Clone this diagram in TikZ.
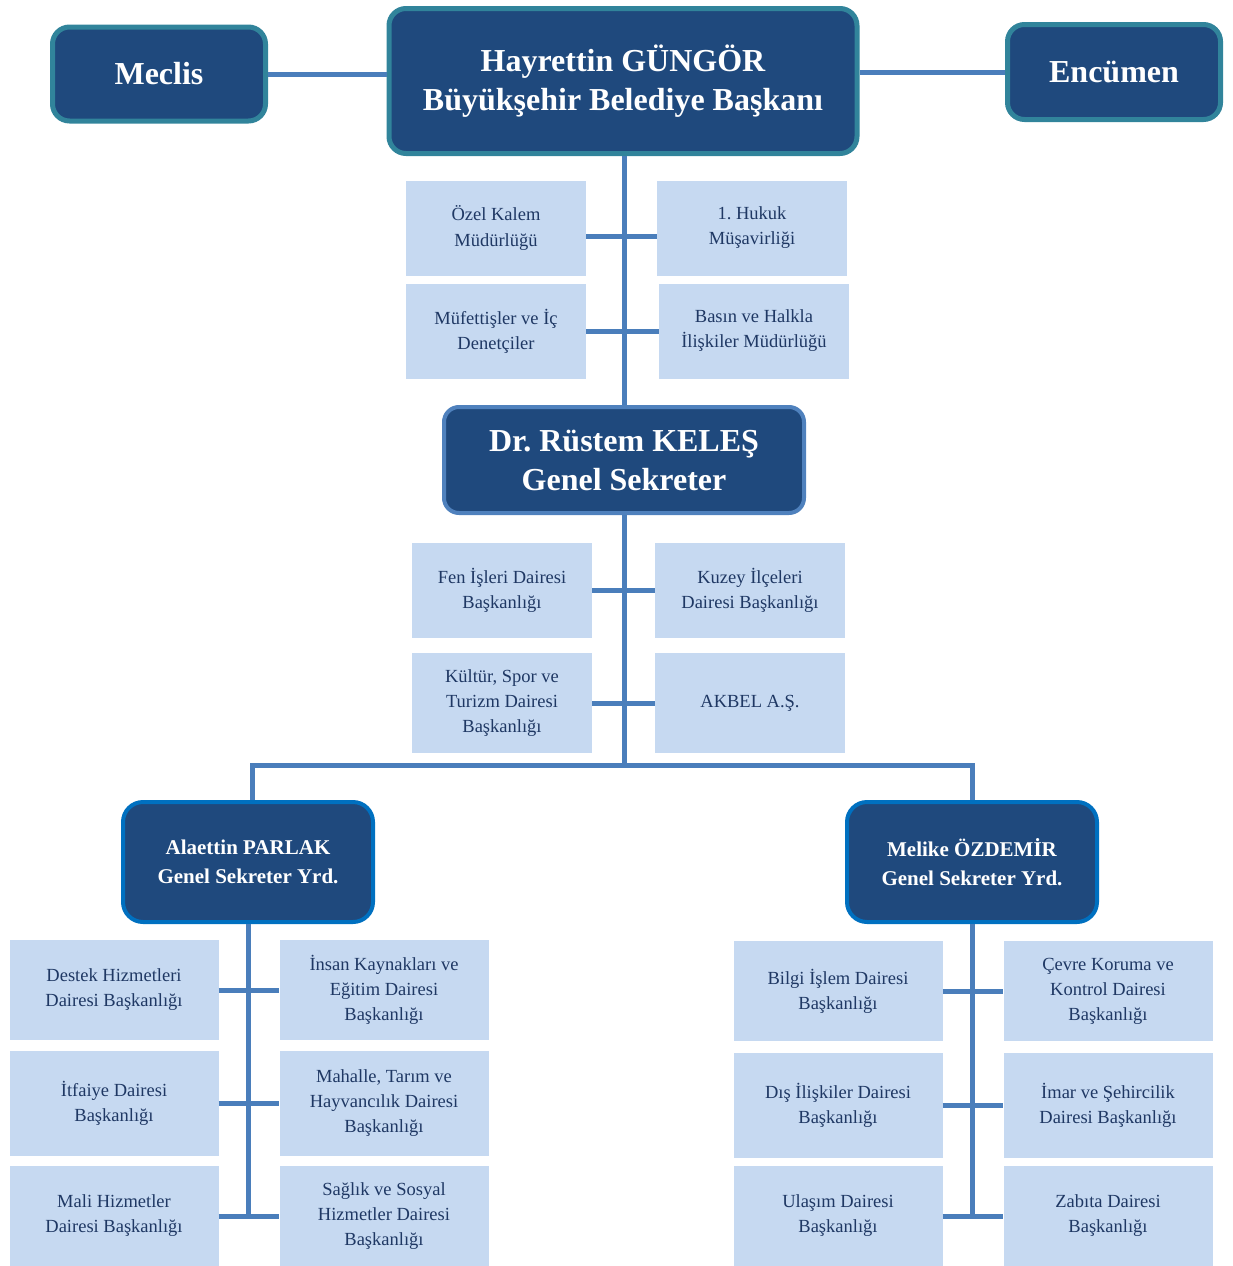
\documentclass[tikz,border=0pt]{standalone}
\usepackage{fontspec}
\setmainfont{Liberation Serif}
\frenchspacing
\definecolor{darkfill}{RGB}{31,73,125}
\definecolor{tealedge}{RGB}{49,132,155}
\definecolor{gsedge}{RGB}{79,129,189}
\definecolor{yrdedge}{RGB}{0,112,192}
\definecolor{lightfill}{RGB}{198,217,241}
\definecolor{lighttext}{RGB}{31,56,100}
\definecolor{linecol}{RGB}{74,126,187}

\begin{document}
\begin{tikzpicture}[x=1pt,y=-1pt,
    topbox/.style={draw=tealedge,line width=5pt,fill=darkfill,rounded corners=17pt,text=white,align=center,font=\fontsize{32}{39}\selectfont\bfseries},
    gsbox/.style={draw=gsedge,line width=4pt,fill=darkfill,rounded corners=15pt,text=white,align=center,font=\fontsize{32}{39}\selectfont\bfseries,minimum width=360pt,minimum height=106pt},
    yrdbox/.style={draw=yrdedge,line width=4pt,fill=darkfill,rounded corners=20pt,text=white,align=center,font=\fontsize{21}{29}\selectfont\bfseries,minimum width=250pt,minimum height=120pt},
    lbox/.style={fill=lightfill,text=lighttext,align=center,inner sep=0pt,font=\fontsize{18.5}{25}\selectfont,minimum width=180pt,minimum height=95pt},
    bbox/.style={lbox,minimum width=209pt,minimum height=100pt},
    conn/.style={draw=linecol,line width=5pt}]
      \useasboundingbox (0,0) rectangle (1233,1266);
      \node[topbox,minimum width=213pt,minimum height=94pt] at (159,74) (meclis){Meclis};
      \node[topbox,minimum width=468pt,minimum height=145pt] at (623,81) (mayor){Hayrettin GÜNGÖR\\Büyükşehir Belediye Başkanı};
      \node[topbox,minimum width=213pt,minimum height=95pt] at (1114,72) (encumen){Encümen};
      \draw[conn] (meclis.east) -- (meclis.east -| mayor.west);
      \draw[conn] (encumen.west) -- (encumen.west -| mayor.east);

      \node[lbox] at (496,228) (ozel){Özel Kalem\\Müdürlüğü};
      \node[lbox,minimum width=190pt] at (752,228) (hukuk){1. Hukuk\\Müşavirliği};
      \node[lbox] at (496,331) (mufettis){Müfettişler ve İç\\Denetçiler};
      \node[lbox,minimum width=190pt] at (754,331) (basin){Basın ve Halkla\\İlişkiler Müdürlüğü};
      \node[gsbox] at (624,460) (gs){Dr. Rüstem KELEŞ\\Genel Sekreter};
      \draw[conn] (mayor.south -| gs.north) -- (gs.north);
      \draw[conn] ([yshift=-8pt]ozel.east) -- ([yshift=-8pt]hukuk.west);
      \draw[conn] (mufettis.east) -- (basin.west);

      \node[lbox] at (502,590) (fen){Fen İşleri Dairesi\\Başkanlığı};
      \node[lbox,minimum width=190pt] at (750,590) (kuzey){Kuzey İlçeleri\\Dairesi Başkanlığı};
      \node[lbox,minimum height=100pt] at (502,703) (kultur){Kültür, Spor ve\\Turizm Dairesi\\Başkanlığı};
      \node[lbox,minimum width=190pt,minimum height=100pt] at (750,703) (akbel){AKBEL A.Ş.};
      \coordinate (br) at (624,765);
      \draw[conn] (gs.south) -- (br);
      \draw[conn] (fen.east) -- (kuzey.west);
      \draw[conn] (kultur.east) -- (akbel.west);

      \node[yrdbox] at (248,862) (yrd1){Alaettin PARLAK\\Genel Sekreter Yrd.};
      \node[yrdbox] at (972,862) (yrd2){Melike ÖZDEMİR\\Genel Sekreter Yrd.};
      \draw[conn,line join=miter] ([xshift=4pt]yrd1.north) |- (br) -| (yrd2.north);

      \node[bbox] at (114,990) (destek){Destek Hizmetleri\\Dairesi Başkanlığı};
      \node[bbox] at (384,990) (insan){İnsan Kaynakları ve\\Eğitim Dairesi\\Başkanlığı};
      \node[bbox,minimum height=105pt] at (114,1103) (itfaiye){İtfaiye Dairesi\\Başkanlığı};
      \node[bbox,minimum height=105pt] at (384,1103) (mahalle){Mahalle, Tarım ve\\Hayvancılık Dairesi\\Başkanlığı};
      \node[bbox] at (114,1216) (mali){Mali Hizmetler\\Dairesi Başkanlığı};
      \node[bbox] at (384,1216) (saglik){Sağlık ve Sosyal\\Hizmetler Dairesi\\Başkanlığı};
      \draw[conn] (yrd1.south) -- (yrd1.south |- mali.east);
      \draw[conn] (destek.east) -- (insan.west);
      \draw[conn] (itfaiye.east) -- (mahalle.west);
      \draw[conn] (mali.east) -- (saglik.west);

      \node[bbox] at (838,991) (bilgi){Bilgi İşlem Dairesi\\Başkanlığı};
      \node[bbox] at (1108,991) (cevre){Çevre Koruma ve\\Kontrol Dairesi\\Başkanlığı};
      \node[bbox,minimum height=105pt] at (838,1105) (dis){Dış İlişkiler Dairesi\\Başkanlığı};
      \node[bbox,minimum height=105pt] at (1108,1105) (imar){İmar ve Şehircilik\\Dairesi Başkanlığı};
      \node[bbox] at (838,1216) (ulasim){Ulaşım Dairesi\\Başkanlığı};
      \node[bbox] at (1108,1216) (zabita){Zabıta Dairesi\\Başkanlığı};
      \draw[conn] (yrd2.south) -- (yrd2.south |- ulasim.east);
      \draw[conn] (bilgi.east) -- (cevre.west);
      \draw[conn] (dis.east) -- (imar.west);
      \draw[conn] (ulasim.east) -- (zabita.west);
    \end{tikzpicture}
\end{document}
